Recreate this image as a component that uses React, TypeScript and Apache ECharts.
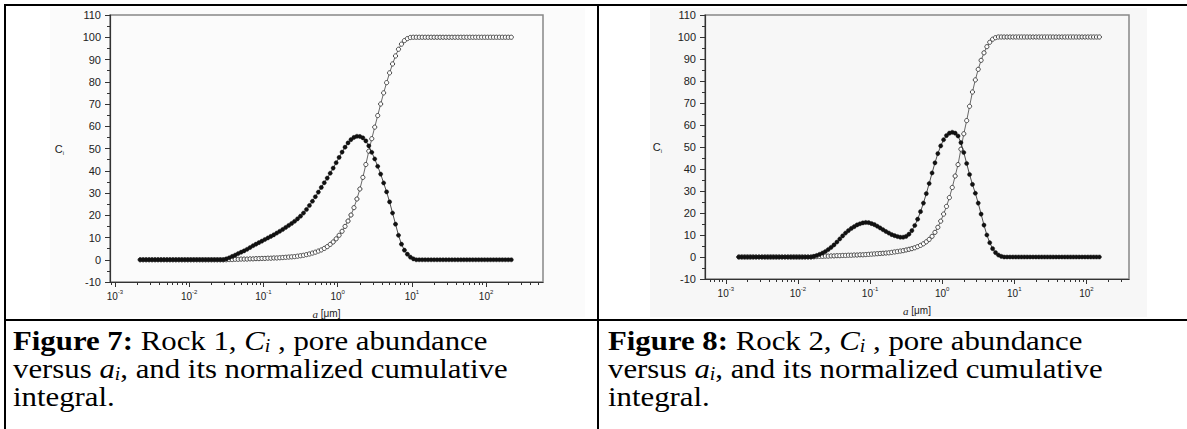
import { useEffect, useRef } from 'react';
import * as echarts from 'echarts';

// ---------- Figure 7 (Rock 1) : log10 of pore size a [µm] ----------
const logA1 = [
  -2.66, -2.62, -2.58, -2.54, -2.5, -2.46, -2.42, -2.38, -2.34, -2.3,
  -2.26, -2.22, -2.18, -2.14, -2.1, -2.06, -2.02, -1.98, -1.94, -1.9,
  -1.86, -1.82, -1.78, -1.74, -1.7, -1.66, -1.62, -1.58, -1.54, -1.5,
  -1.46, -1.42, -1.38, -1.34, -1.3, -1.26, -1.22, -1.18, -1.14, -1.1,
  -1.06, -1.02, -0.98, -0.94, -0.9, -0.86, -0.82, -0.78, -0.74, -0.7,
  -0.66, -0.62, -0.58, -0.54, -0.5, -0.46, -0.42, -0.38, -0.34, -0.3,
  -0.26, -0.22, -0.18, -0.14, -0.1, -0.06, -0.02, 0.02, 0.06, 0.1,
  0.14, 0.18, 0.22, 0.26, 0.3, 0.34, 0.38, 0.42, 0.46, 0.5,
  0.54, 0.58, 0.62, 0.66, 0.7, 0.74, 0.78, 0.82, 0.86, 0.9,
  0.94, 0.98, 1.02, 1.06, 1.1, 1.14, 1.18, 1.22, 1.26, 1.3,
  1.34, 1.38, 1.42, 1.46, 1.5, 1.54, 1.58, 1.62, 1.66, 1.7,
  1.74, 1.78, 1.82, 1.86, 1.9, 1.94, 1.98, 2.02, 2.06, 2.1,
  2.14, 2.18, 2.22, 2.26, 2.3, 2.34,
];
// C_i, pore abundance (filled circles)
const ci1 = [
  0, 0, 0, 0, 0, 0, 0, 0, 0, 0,
  0, 0, 0, 0, 0, 0, 0, 0, 0, 0,
  0, 0, 0, 0, 0, 0, 0, 0, 0, 0.4,
  0.9, 1.5, 2.1, 2.8, 3.4, 4.0, 4.7, 5.5, 6.3, 7.0,
  7.7, 8.4, 9.1, 9.8, 10.5, 11.2, 12.0, 12.8, 13.6, 14.5,
  15.4, 16.3, 17.3, 18.4, 19.6, 21.0, 22.6, 24.4, 26.3, 28.3,
  30.4, 32.5, 34.6, 36.7, 38.9, 41.2, 43.6, 46.0, 48.4, 50.6,
  52.5, 54.0, 55.0, 55.5, 55.4, 54.8, 53.4, 51.2, 48.3, 45.3,
  42.0, 38.5, 34.5, 30.5, 26.0, 21.0, 16.0, 11.0, 7.0, 4.3,
  2.5, 1.2, 0.4, 0, 0, 0, 0, 0, 0, 0,
  0, 0, 0, 0, 0, 0, 0, 0, 0, 0,
  0, 0, 0, 0, 0, 0, 0, 0, 0, 0,
  0, 0, 0, 0, 0, 0,
];
// normalized cumulative integral (open circles)
const cum1 = [
  0, 0, 0, 0, 0, 0, 0, 0, 0, 0,
  0, 0, 0, 0, 0, 0, 0, 0, 0, 0,
  0, 0, 0, 0, 0, 0, 0, 0, 0, 0,
  0.1, 0.1, 0.2, 0.2, 0.3, 0.3, 0.3, 0.4, 0.4, 0.5,
  0.5, 0.6, 0.6, 0.7, 0.7, 0.8, 0.8, 0.9, 1.0, 1.1,
  1.2, 1.3, 1.4, 1.6, 1.8, 2.0, 2.3, 2.6, 3.0, 3.4,
  3.9, 4.4, 5.1, 5.9, 6.9, 8.0, 9.4, 11.0, 12.8, 15.0,
  17.4, 20.1, 23.4, 27.3, 31.8, 37.0, 42.8, 48.8, 54.4, 59.6,
  64.8, 70.0, 75.0, 79.6, 84.0, 88.0, 91.6, 94.6, 96.9, 98.5,
  99.4, 99.9, 100, 100, 100, 100, 100, 100, 100, 100,
  100, 100, 100, 100, 100, 100, 100, 100, 100, 100,
  100, 100, 100, 100, 100, 100, 100, 100, 100, 100,
  100, 100, 100, 100, 100, 100,
];

// ---------- Figure 8 (Rock 2) ----------
const logA2 = [
  -2.82, -2.78, -2.74, -2.7, -2.66, -2.62, -2.58, -2.54, -2.5, -2.46,
  -2.42, -2.38, -2.34, -2.3, -2.26, -2.22, -2.18, -2.14, -2.1, -2.06,
  -2.02, -1.98, -1.94, -1.9, -1.86, -1.82, -1.78, -1.74, -1.7, -1.66,
  -1.62, -1.58, -1.54, -1.5, -1.46, -1.42, -1.38, -1.34, -1.3, -1.26,
  -1.22, -1.18, -1.14, -1.1, -1.06, -1.02, -0.98, -0.94, -0.9, -0.86,
  -0.82, -0.78, -0.74, -0.7, -0.66, -0.62, -0.58, -0.54, -0.5, -0.46,
  -0.42, -0.38, -0.34, -0.3, -0.26, -0.22, -0.18, -0.14, -0.1, -0.06,
  -0.02, 0.02, 0.06, 0.1, 0.14, 0.18, 0.22, 0.26, 0.3, 0.34,
  0.38, 0.42, 0.46, 0.5, 0.54, 0.58, 0.62, 0.66, 0.7, 0.74,
  0.78, 0.82, 0.86, 0.9, 0.94, 0.98, 1.02, 1.06, 1.1, 1.14,
  1.18, 1.22, 1.26, 1.3, 1.34, 1.38, 1.42, 1.46, 1.5, 1.54,
  1.58, 1.62, 1.66, 1.7, 1.74, 1.78, 1.82, 1.86, 1.9, 1.94,
  1.98, 2.02, 2.06, 2.1, 2.14, 2.18,
];
const ci2 = [
  0, 0, 0, 0, 0, 0, 0, 0, 0, 0,
  0, 0, 0, 0, 0, 0, 0, 0, 0, 0,
  0, 0, 0, 0, 0, 0, 0.3, 0.7, 1.2, 1.8,
  2.5, 3.4, 4.4, 5.5, 6.8, 8.2, 9.6, 10.9, 12.0, 13.0,
  13.8, 14.6, 15.1, 15.5, 15.7, 15.6, 15.2, 14.7, 14.0, 13.2,
  12.4, 11.6, 10.9, 10.2, 9.7, 9.3, 9.0, 9.0, 9.4, 10.4,
  12.0, 14.3, 17.2, 20.6, 24.5, 28.8, 33.4, 38.2, 42.8, 47.0,
  50.5, 53.3, 55.2, 56.3, 56.7, 56.3, 55.0, 52.0, 47.5, 42.5,
  37.5, 33.0, 29.0, 24.5, 19.5, 14.5, 10.0, 6.5, 3.8, 2.0,
  0.9, 0.3, 0, 0, 0, 0, 0, 0, 0, 0,
  0, 0, 0, 0, 0, 0, 0, 0, 0, 0,
  0, 0, 0, 0, 0, 0, 0, 0, 0, 0,
  0, 0, 0, 0, 0, 0,
];
const cum2 = [
  0, 0, 0, 0, 0, 0, 0, 0, 0, 0,
  0, 0, 0, 0, 0, 0, 0, 0, 0, 0,
  0, 0, 0, 0, 0, 0, 0.1, 0.2, 0.3, 0.3,
  0.4, 0.4, 0.5, 0.5, 0.6, 0.6, 0.7, 0.7, 0.8, 0.8,
  0.9, 0.9, 1.0, 1.0, 1.1, 1.2, 1.3, 1.4, 1.5, 1.6,
  1.7, 1.8, 1.9, 2.1, 2.3, 2.5, 2.7, 2.9, 3.2, 3.5,
  3.8, 4.2, 4.7, 5.3, 6.0, 6.9, 8.0, 9.4, 11.2, 13.5,
  16.3, 19.5, 23.0, 27.0, 31.6, 36.8, 42.0, 49.0, 56.0, 62.0,
  68.5, 75.0, 80.5, 85.3, 89.4, 92.8, 95.6, 97.6, 99.0, 99.7,
  100, 100, 100, 100, 100, 100, 100, 100, 100, 100,
  100, 100, 100, 100, 100, 100, 100, 100, 100, 100,
  100, 100, 100, 100, 100, 100, 100, 100, 100, 100,
  100, 100, 100, 100, 100, 100,
];

// ---------- axis ticks ----------
const decadeTicks = [0.001, 0.01, 0.1, 1, 10, 100];
const minorTickValues = [
  0.0006, 0.0007, 0.0008, 0.0009,
  0.002, 0.003, 0.004, 0.005, 0.006, 0.007, 0.008, 0.009,
  0.02, 0.03, 0.04, 0.05, 0.06, 0.07, 0.08, 0.09,
  0.2, 0.3, 0.4, 0.5, 0.6, 0.7, 0.8, 0.9,
  2, 3, 4, 5, 6, 7, 8, 9,
  20, 30, 40, 50, 60, 70, 80, 90,
  200, 300, 400, 500,
];

const SANS = '"Liberation Sans", Arial, sans-serif';
const SERIF = '"Liberation Serif", "Times New Roman", Times, serif';
const INK = '#222';
const AXIS = '#333';

const xLabelRich = {
  b: { fontSize: 10, fontFamily: SANS, color: INK, lineHeight: 12, verticalAlign: 'bottom' },
  s: { fontSize: 6, fontFamily: SANS, color: INK, lineHeight: 6, verticalAlign: 'top' },
};
const xNameRich = {
  i: { fontSize: 11, fontFamily: SERIF, fontStyle: 'italic', color: INK, lineHeight: 13 },
  n: { fontSize: 10, fontFamily: SANS, color: INK, lineHeight: 13 },
};
const yNameRich = {
  c: { fontSize: 11, fontFamily: SANS, color: INK, lineHeight: 14 },
  s: { fontSize: 6, fontFamily: SANS, color: INK, lineHeight: 6, verticalAlign: 'bottom' },
};

function mainX(gridIndex: number, min: number, max: number) {
  return {
    type: 'log', logBase: 10, gridIndex, position: 'bottom', min, max,
    axisLine: { show: true, onZero: false, lineStyle: { color: AXIS, width: 1.2 } },
    axisTick: { show: true, inside: false, length: 5, customValues: decadeTicks, lineStyle: { color: AXIS, width: 1 } },
    minorTick: { show: false },
    axisLabel: {
      show: true, customValues: decadeTicks, margin: 7,
      formatter: (v: number) => `{b|10}{s|${Math.round(Math.log10(v))}}`,
      rich: xLabelRich,
    },
    splitLine: { show: false },
    name: '{i|a}{n| [μm]}', nameLocation: 'middle', nameGap: 25,
    nameTextStyle: { rich: xNameRich }, nameMoveOverlap: false,
  };
}
function minorX(gridIndex: number, min: number, max: number) {
  return {
    type: 'log', logBase: 10, gridIndex, position: 'bottom', min, max,
    axisLine: { show: false, onZero: false },
    axisTick: { show: true, inside: false, length: 3, customValues: minorTickValues, lineStyle: { color: AXIS, width: 1 } },
    axisLabel: { show: false },
    splitLine: { show: false },
  };
}
function yAx(gridIndex: number, nameGap: number) {
  return {
    type: 'value', gridIndex, min: -10, max: 110, interval: 10,
    axisLine: { show: true, onZero: false, lineStyle: { color: AXIS, width: 1.2 } },
    axisTick: { show: true, inside: false, length: 5, lineStyle: { color: AXIS, width: 1 } },
    minorTick: { show: true, splitNumber: 2, length: 3, lineStyle: { color: AXIS, width: 1 } },
    axisLabel: { margin: 9, fontSize: 11, fontFamily: SANS, color: INK },
    splitLine: { show: false }, minorSplitLine: { show: false },
    name: '{c|C}{s|i}', nameLocation: 'middle', nameRotate: 0, nameGap,
    nameTextStyle: { rich: yNameRich }, nameMoveOverlap: false,
  };
}
function seriesPair(xIdx: number, yIdx: number, logA: number[], ci: number[], cum: number[]) {
  const common = {
    type: 'line', xAxisIndex: xIdx, yAxisIndex: yIdx, symbol: 'circle', symbolSize: 4.2,
    silent: true, emphasis: { disabled: true }, animation: false,
  };
  return [
    {
      ...common, name: 'cumulative', z: 3,
      data: logA.map((e, i) => [Math.pow(10, e), cum[i]]),
      lineStyle: { color: '#444', width: 0.8 },
      itemStyle: { color: '#fff', borderColor: '#333', borderWidth: 0.9 },
    },
    {
      ...common, name: 'Ci', z: 4,
      data: logA.map((e, i) => [Math.pow(10, e), ci[i]]),
      lineStyle: { color: '#222', width: 0.8 },
      itemStyle: { color: '#111', borderColor: '#111', borderWidth: 0.4 },
    },
  ];
}

const capRich = {
  b: { fontFamily: SERIF, fontWeight: 'bold', fontSize: 28, lineHeight: 30, fill: '#000' },
  n: { fontFamily: SERIF, fontSize: 28, lineHeight: 30, fill: '#000' },
  i: { fontFamily: SERIF, fontStyle: 'italic', fontSize: 28, lineHeight: 30, fill: '#000' },
  s: { fontFamily: SERIF, fontStyle: 'italic', fontSize: 18, lineHeight: 18, verticalAlign: 'bottom', fill: '#000' },
};
const captions = [
  ['{b|Figure 7:}{n| Rock 1, }{i|C}{s|i}{n| , pore abundance}', '{n|versus }{i|a}{s|i}{n|, and its normalized cumulative}', '{n|integral.}'],
  ['{b|Figure 8:}{n| Rock 2, }{i|C}{s|i}{n| , pore abundance}', '{n|versus }{i|a}{s|i}{n|, and its normalized cumulative}', '{n|integral.}'],
];
const capX = [13, 608];
const capTop = [325, 353, 381];

function buildOption() {
  const graphic: any[] = [
    { type: 'rect', z: -5, shape: { x: 50, y: 8, width: 535, height: 309 }, style: { fill: '#fbfbfb' } },
    { type: 'rect', z: -5, shape: { x: 650, y: 8, width: 497, height: 309 }, style: { fill: '#f7f7f7' } },
    { type: 'rect', z: 50, shape: { x: 4, y: 4, width: 1183, height: 2 }, style: { fill: '#000' } },
    { type: 'rect', z: 50, shape: { x: 4, y: 4, width: 2, height: 425 }, style: { fill: '#000' } },
    { type: 'rect', z: 50, shape: { x: 597, y: 4, width: 2, height: 425 }, style: { fill: '#000' } },
    { type: 'rect', z: 50, shape: { x: 4, y: 319, width: 1183, height: 2 }, style: { fill: '#000' } },
  ];
  captions.forEach((lines, c) => {
    lines.forEach((t, l) => {
      graphic.push({
        type: 'text', z: 50, x: capX[c], y: capTop[l], scaleX: 1.1,
        style: { text: t, rich: capRich, align: 'left', verticalAlign: 'top' },
      });
    });
  });

  return {
    animation: false,
    backgroundColor: '#fff',
    grid: [
      { left: 110, top: 15, width: 433, height: 267, show: true, borderColor: '#888', borderWidth: 1.5, outerBoundsMode: 'none', containLabel: false },
      { left: 705, top: 15, width: 424, height: 264, show: true, borderColor: '#888', borderWidth: 1.5, outerBoundsMode: 'none', containLabel: false },
    ],
    xAxis: [
      mainX(0, 0.000857, 585),
      minorX(0, 0.000857, 585),
      mainX(1, 0.000514, 390),
      minorX(1, 0.000514, 390),
    ],
    yAxis: [yAx(0, 46), yAx(1, 43)],
    series: [
      ...seriesPair(0, 0, logA1, ci1, cum1),
      ...seriesPair(2, 1, logA2, ci2, cum2),
    ],
    graphic,
  };
}

export default function App() {
  const ref = useRef<HTMLDivElement>(null);
  useEffect(() => {
    if (!ref.current) return;
    const chart = echarts.init(ref.current, null, { renderer: 'svg' });
    chart.setOption(buildOption() as any);
    return () => chart.dispose();
  }, []);
  return (
    <div
      ref={ref}
      style={{ position: 'absolute', left: 0, top: 0, width: 1187, height: 429, background: '#fff' }}
    />
  );
}
